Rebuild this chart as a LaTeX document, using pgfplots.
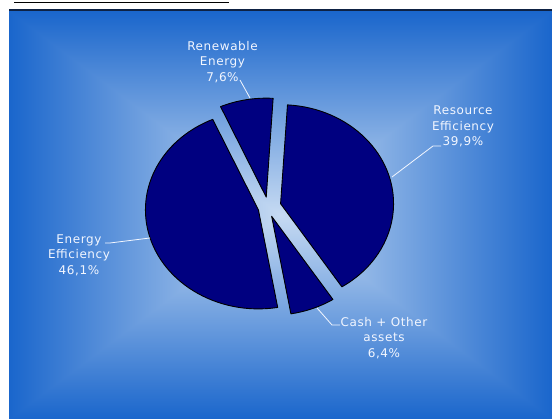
\documentclass[border=0pt]{standalone}
\usepackage{pgfplots}
\pgfplotsset{compat=1.18}
\usepackage{pgfplotstable}
\usepackage{fontspec}
\setmainfont{DejaVu Sans}[LetterSpace=5]

\definecolor{slice}{HTML}{000080}
\definecolor{topline}{HTML}{0E2244}
\definecolor{lbl}{HTML}{F2F6FF}

% rectangular gradient: light centre C6DAF2 to edge 1A66CC
\pgfdeclarefunctionalshading{rectgrad}{\pgfpoint{-50bp}{-50bp}}{\pgfpoint{50bp}{50bp}}{}{
  abs exch abs 2 copy lt {exch} if pop 25 div
  dup 1 gt {pop 1} if
  dup -0.674 mul 0.776 add exch
  dup -0.455 mul 0.855 add exch
  -0.149 mul 0.949 add
}

% portfolio shares, clockwise from the top
\pgfplotstableread{
name value
Resource 39.9
Cash 6.4
Energy 46.1
Renewable 7.6
}\piedata

% start angle, end angle, explode distance
\newcommand\pieslice[3]{%
  \pgfmathsetmacro\bis{(#1+#2)/2}%
  \pgfmathsetmacro\ox{268+#3*cos(\bis)}%
  \pgfmathsetmacro\oy{212+#3*sin(\bis)}%
  \pgfmathsetmacro\px{\ox+113*cos(#1)}%
  \pgfmathsetmacro\py{\oy+99*sin(#1)}%
  \fill[slice,draw=black,line width=0.9pt,line join=round]
    (axis cs:\ox,\oy) -- (axis cs:\px,\py)
    arc[start angle=#1,end angle=#2,x radius=113pt,y radius=99pt] -- cycle;%
}

\begin{document}
\begin{tikzpicture}[x=1pt,y=1pt]
\path (0,0) rectangle (552,419);
\shade[shading=rectgrad] (9,0) rectangle (552,408);
\fill[topline] (9,407.5) rectangle (552,409.5);
\draw[line width=1.6pt] (14,416.5) -- (229,416.5);

\pgfplotstablegetelem{0}{value}\of\piedata \let\vA\pgfplotsretval
\pgfplotstablegetelem{1}{value}\of\piedata \let\vB\pgfplotsretval
\pgfplotstablegetelem{2}{value}\of\piedata \let\vC\pgfplotsretval
\pgfplotstablegetelem{3}{value}\of\piedata \let\vD\pgfplotsretval
\pgfmathsetmacro\sA{86.5}
\pgfmathsetmacro\eA{\sA-3.6*\vA}
\pgfmathsetmacro\eB{\eA-3.6*\vB}
\pgfmathsetmacro\eC{\eB-3.6*\vC}
\pgfmathsetmacro\eD{\eC-3.6*\vD}

\begin{axis}[
  x=1pt, y=1pt,
  xmin=0, xmax=552, ymin=0, ymax=419,
  hide axis, clip=false,
]
\pgfplotsextra{\pieslice{\sA}{\eA}{13}}
\pgfplotsextra{\pieslice{\eA}{\eB}{10}}
\pgfplotsextra{\pieslice{\eB}{\eC}{10}}
\pgfplotsextra{\pieslice{\eC}{\eD}{10}}

% leader lines
\draw[lbl,line width=0.8pt] (axis cs:240,339) -- (axis cs:250,321);
\draw[lbl,line width=0.8pt] (axis cs:441,273) -- (axis cs:433,273) -- (axis cs:392,242);
\draw[lbl,line width=0.8pt] (axis cs:105,176) -- (axis cs:110,176) -- (axis cs:150,181);
\draw[lbl,line width=0.8pt] (axis cs:317,111) -- (axis cs:332,94) -- (axis cs:340,94);

\tikzset{lab/.style={text=lbl,align=center,inner sep=0pt,font=\fontsize{12}{15.5}\selectfont}}
\node[lab] at (axis cs:222.5,357.3) {Renewable\\Energy\\7,6\%};
\node[lab] at (axis cs:463,292.5) {Resource\\Efficiency\\39,9\%};
\node[lab] at (axis cs:79,164) {Energy\\Efficiency\\46,1\%};
\node[lab] at (axis cs:384,81.3) {Cash + Other\\assets\\6,4\%};
\end{axis}
\end{tikzpicture}
\end{document}
